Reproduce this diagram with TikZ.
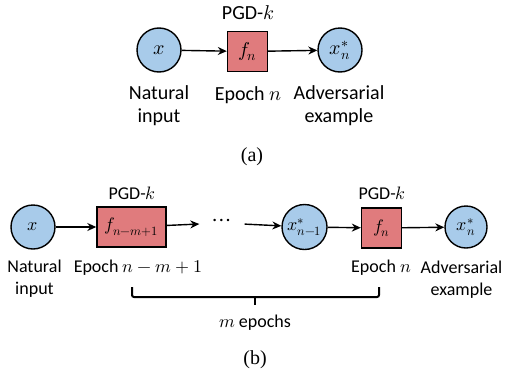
\documentclass[tikz,border=0pt]{standalone}
\usepackage{fontspec}
\usepackage{unicode-math}
\setmainfont{Carlito}
\setmathfont{Latin Modern Math}
\newfontfamily\capfont{Liberation Serif}
\definecolor{circblue}{HTML}{A8CBEA}
\definecolor{boxred}{HTML}{E07B7D}
\usetikzlibrary{arrows.meta}
\usetikzlibrary{positioning}

\begin{document}
\begin{tikzpicture}[
    x=1pt, y=-1pt,
    line width=1.4pt,
    font=\fontsize{20}{23}\selectfont
]
\tikzset{
    varnode/.style = {circle, draw=black, fill=circblue, minimum size=44pt, inner sep=0pt},
    pgdnode/.style = {rectangle, draw=black, fill=boxred, minimum height=40pt, minimum width=40pt, inner sep=2pt},
    txt/.style = {align=center, inner sep=0pt},
    conn/.style = {-{Stealth[length=9pt,width=8pt]}, line width=1.4pt},
    small/.style = {font=\fontsize{18}{22}\selectfont},
    capt/.style = {font=\capfont\fontsize{20}{22}\selectfont}
}
\useasboundingbox (0,0) rectangle (505,383);
% (a)
\node[varnode] at (159,50) (ax) {$x$};
\node[pgdnode] at (247.5,51.5) (af) {$f_n$};
\node[varnode] at (340,50) (axs) {$x_n^*$};
\node[txt] at (248,13) (apgd) {PGD-$k$};
\node[txt] at (159,106) (anat) {Natural\\input};
\node[txt] at (248,95) (aep) {Epoch $n$};
\node[txt] at (339,106) (aadv) {Adversarial\\example};
\draw[conn] (ax) -- (af);
\draw[conn] (af) -- (axs);
\node[capt] at (252,157) (capa) {(a)};
% (b)
\begin{scope}[small]
\node[varnode] at (33,227) (bx) {$x$};
\node[pgdnode, minimum width=69pt] at (131.5,227) (bf1) {$f_{n-m+1}$};
\node[txt, minimum width=44pt, font=\fontsize{24}{24}\selectfont\boldmath] at (222,223) (dots) {$\cdots$};
\node[varnode, minimum size=45pt] at (304.5,227) (bxp) {$x_{n-1}^*$};
\node[pgdnode] at (381.5,228) (bf2) {$f_n$};
\node[varnode, minimum size=42pt] at (466,227) (bxs) {$x_n^*$};
\node[txt] at (132,193) (bpgd1) {PGD-$k$};
\node[txt] at (382,193) (bpgd2) {PGD-$k$};
\node[txt] at (34.5,279) (bnat) {Natural\\input};
\node[txt] at (138,268) (bep1) {Epoch $n-m+1$};
\node[txt] at (381,268) (bep2) {Epoch $n$};
\node[txt] at (461.5,280) (badv) {Adversarial\\example};
\end{scope}
\draw[conn] (bx) -- (bf1);
\draw[conn] (bf1) -- (dots);
\draw[conn] (dots) -- (bxp);
\draw[conn] (bxp) -- (bf2);
\draw[conn] (bf2) -- (bxs);
% brace under the m epochs
\coordinate (brl) at (132,287);
\coordinate (brr) at (379,287);
\coordinate (brm) at (255,297);
\coordinate (brt) at (255,305);
\draw[line width=2pt, rounded corners=2pt] (brl) -- (brl |- brm) -- (brr |- brm) -- (brr);
\draw[line width=2pt] (brm) -- (brt);
\node[txt, small] at (255,323) (mep) {$m$ epochs};
\node[capt] at (255,360) (capb) {(b)};
\end{tikzpicture}
\end{document}
